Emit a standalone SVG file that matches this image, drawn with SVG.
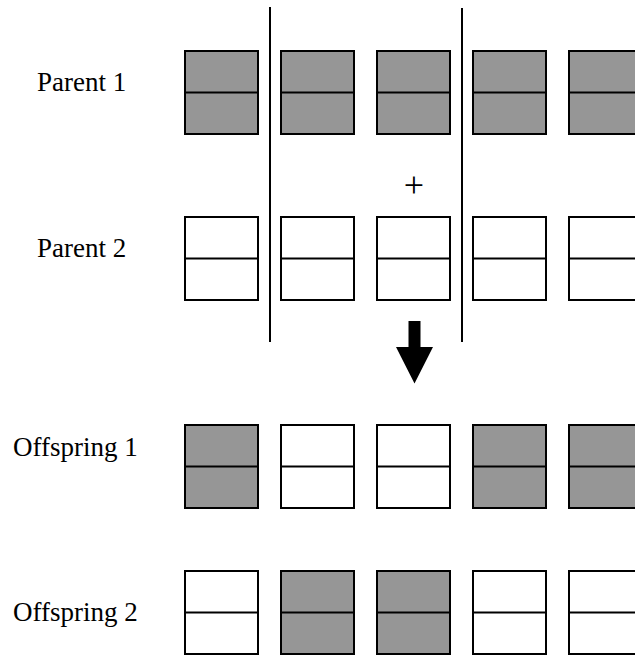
<svg xmlns="http://www.w3.org/2000/svg" width="635" height="655" viewBox="0 0 635 655">
<style>
.lbl{font-family:"Liberation Serif","Times New Roman",serif;font-size:27px;fill:#000}
.g{fill:#969696;stroke:#000;stroke-width:2}
.w{fill:#fff;stroke:#000;stroke-width:2}
.m{stroke:#000;stroke-width:2}
.cut{stroke:#000;stroke-width:2}
</style>
<defs>
<g id="gbox"><rect class="g" x="0" y="0" width="73" height="83"/><line class="m" x1="0" y1="41.5" x2="73" y2="41.5"/></g>
<g id="wbox"><rect class="w" x="0" y="0" width="73" height="83"/><line class="m" x1="0" y1="41.5" x2="73" y2="41.5"/></g>
</defs>
<rect width="635" height="655" fill="#fff"/>
<g id="labels">
<text class="lbl" x="37" y="91">Parent 1</text>
<text class="lbl" x="37" y="257">Parent 2</text>
<text class="lbl" x="13" y="456">Offspring 1</text>
<text class="lbl" x="13" y="621">Offspring 2</text>
<text class="lbl" x="414" y="197" text-anchor="middle" style="font-size:36px">+</text>
</g>
<g id="parent1">
<use href="#gbox" x="185" y="51"/><use href="#gbox" x="281" y="51"/><use href="#gbox" x="377" y="51"/><use href="#gbox" x="473" y="51"/><use href="#gbox" x="569" y="51"/>
</g>
<g id="parent2">
<use href="#wbox" x="185" y="217"/><use href="#wbox" x="281" y="217"/><use href="#wbox" x="377" y="217"/><use href="#wbox" x="473" y="217"/><use href="#wbox" x="569" y="217"/>
</g>
<g id="offspring1">
<use href="#gbox" x="185" y="425"/><use href="#wbox" x="281" y="425"/><use href="#wbox" x="377" y="425"/><use href="#gbox" x="473" y="425"/><use href="#gbox" x="569" y="425"/>
</g>
<g id="offspring2">
<use href="#wbox" x="185" y="571"/><use href="#gbox" x="281" y="571"/><use href="#gbox" x="377" y="571"/><use href="#wbox" x="473" y="571"/><use href="#wbox" x="569" y="571"/>
</g>
<g id="connectors">
<line class="cut" x1="270" y1="7" x2="270" y2="342"/>
<line class="cut" x1="462" y1="8" x2="462" y2="342"/>
<polygon points="408.5,321 420.5,321 420.5,347 433,347 414.5,383.5 396,347 408.5,347" fill="#000"/>
</g>
</svg>
